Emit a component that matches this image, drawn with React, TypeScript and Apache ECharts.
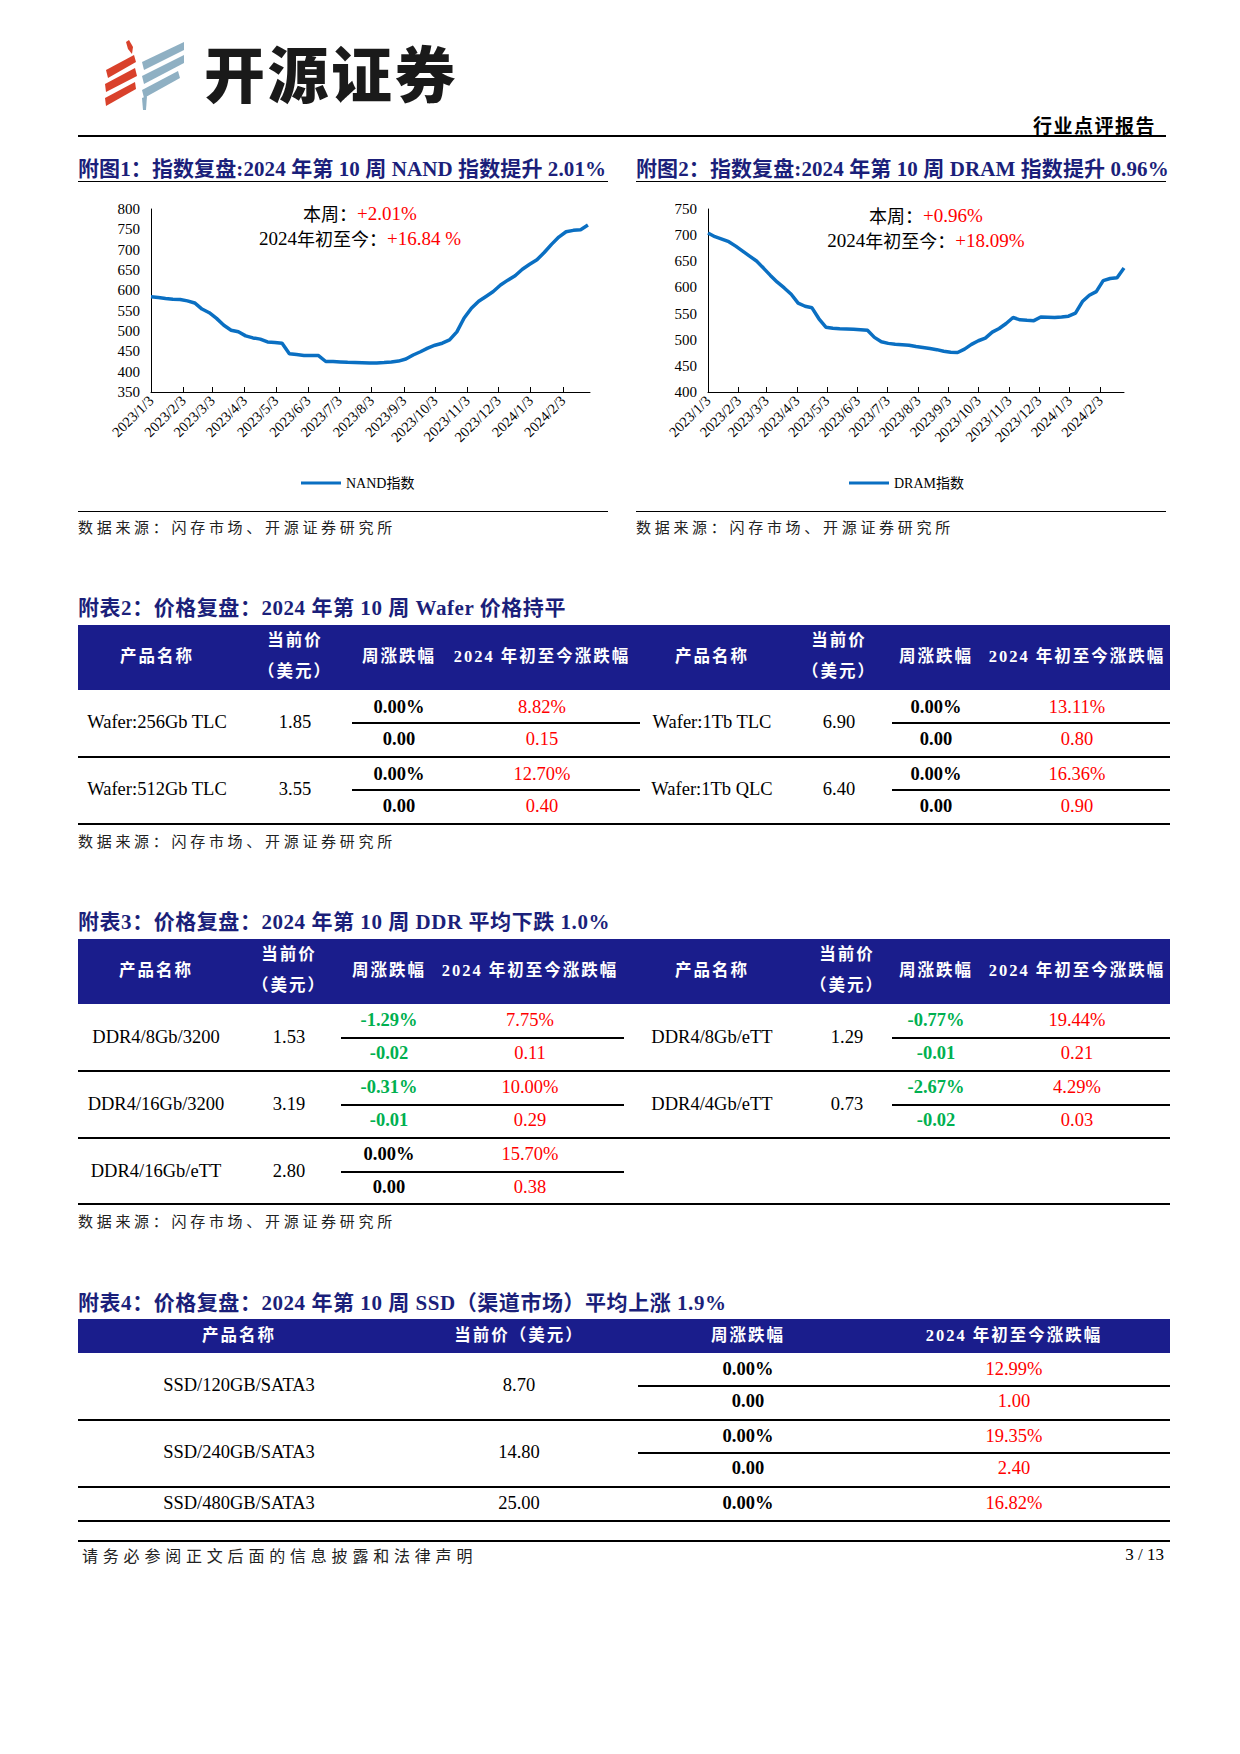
import React, { useEffect, useRef } from "react";
import * as echarts from "echarts";

// ---------- data ----------
const weekDates = [
  "2023/1/3", "2023/1/10", "2023/1/17", "2023/1/24", "2023/1/31",
  "2023/2/7", "2023/2/14", "2023/2/21", "2023/2/28",
  "2023/3/7", "2023/3/14", "2023/3/21", "2023/3/28",
  "2023/4/4", "2023/4/11", "2023/4/18", "2023/4/25",
  "2023/5/2", "2023/5/9", "2023/5/16", "2023/5/23", "2023/5/30",
  "2023/6/6", "2023/6/13", "2023/6/20", "2023/6/27",
  "2023/7/4", "2023/7/11", "2023/7/18", "2023/7/25",
  "2023/8/1", "2023/8/8", "2023/8/15", "2023/8/22", "2023/8/29",
  "2023/9/5", "2023/9/12", "2023/9/19", "2023/9/26",
  "2023/10/3", "2023/10/10", "2023/10/17", "2023/10/24", "2023/10/31",
  "2023/11/7", "2023/11/14", "2023/11/21", "2023/11/28",
  "2023/12/5", "2023/12/12", "2023/12/19", "2023/12/26",
  "2024/1/2", "2024/1/9", "2024/1/16", "2024/1/23", "2024/1/30",
  "2024/2/6", "2024/2/13", "2024/2/20", "2024/2/27",
];

const nandIndex = [
  584, 582.5, 580, 578, 577.5, 574, 569, 554, 545, 531, 514, 502, 498, 488, 483, 480,
  473, 472, 470, 444, 442, 440, 440, 439.5, 425, 425, 424, 423, 422.5, 422, 421.5, 421.5,
  422.5, 424, 426, 431, 441, 449, 458, 465, 470, 478, 498, 532, 556, 573, 585, 597,
  613, 625, 636, 652, 664, 675, 693, 713, 731, 744, 747.5, 749, 760.5,
];

const dramIndex = [
  704, 697, 692.5, 687.5, 679, 669.5, 660, 650.5, 637, 623, 610, 599, 587, 570, 564, 561,
  540, 524, 522, 521, 520.5, 520, 519, 518, 504.5, 496, 493, 491.5, 490.5, 489.5, 487, 485,
  483, 481, 478, 476, 475.5, 482, 491, 498, 503, 514.5, 521.5, 531, 542.5, 538, 537, 536.5,
  543.5, 543, 542.3, 543.5, 545, 551, 573, 585, 592, 613, 617, 618.6, 637,
];

const monthTickLabels = [
  "2023/1/3", "2023/2/3", "2023/3/3", "2023/4/3", "2023/5/3", "2023/6/3", "2023/7/3",
  "2023/8/3", "2023/9/3", "2023/10/3", "2023/11/3", "2023/12/3", "2024/1/3", "2024/2/3",
];

// Wafer table (left panel: 0,1; right panel: 2,3)
const waferNames = ["Wafer:256Gb TLC", "Wafer:512Gb TLC", "Wafer:1Tb TLC", "Wafer:1Tb QLC"];
const waferPrices = ["1.85", "3.55", "6.90", "6.40"];
const waferWeekPct = ["0.00%", "0.00%", "0.00%", "0.00%"];
const waferWeekAbs = ["0.00", "0.00", "0.00", "0.00"];
const waferYtdPct = ["8.82%", "12.70%", "13.11%", "16.36%"];
const waferYtdAbs = ["0.15", "0.40", "0.80", "0.90"];

// DDR table (left panel: 0,1,2; right panel: 3,4)
const ddrNames = ["DDR4/8Gb/3200", "DDR4/16Gb/3200", "DDR4/16Gb/eTT", "DDR4/8Gb/eTT", "DDR4/4Gb/eTT"];
const ddrPrices = ["1.53", "3.19", "2.80", "1.29", "0.73"];
const ddrWeekPct = ["-1.29%", "-0.31%", "0.00%", "-0.77%", "-2.67%"];
const ddrWeekAbs = ["-0.02", "-0.01", "0.00", "-0.01", "-0.02"];
const ddrYtdPct = ["7.75%", "10.00%", "15.70%", "19.44%", "4.29%"];
const ddrYtdAbs = ["0.11", "0.29", "0.38", "0.21", "0.03"];

// SSD table
const ssdNames = ["SSD/120GB/SATA3", "SSD/240GB/SATA3", "SSD/480GB/SATA3"];
const ssdPrices = ["8.70", "14.80", "25.00"];
const ssdWeekPct = ["0.00%", "0.00%", "0.00%"];
const ssdWeekAbs = ["0.00", "0.00", ""];
const ssdYtdPct = ["12.99%", "19.35%", "16.82%"];
const ssdYtdAbs = ["1.00", "2.40", ""];

// ---------- styles ----------
const SERIF = '"Liberation Serif", "Noto Sans CJK SC", serif';
const CJK = '"Noto Sans CJK SC", "Liberation Serif", sans-serif';
const NAVY = "#1b1f7a";
const BAND = "#1a1d8c";
const RED = "#ff0000";
const GREEN = "#00b050";
const LINE_BLUE = "#0a6fc2";

function dayOffset(s: string) {
  const [y, m, d] = s.split("/").map(Number);
  return Math.round((Date.UTC(y, m - 1, d) - Date.UTC(2023, 0, 3)) / 86400000);
}

type TProps = {
  x: number;
  y: number;
  anchor?: "left" | "center" | "right";
  style?: React.CSSProperties;
  children: React.ReactNode;
};
function T({ x, y, anchor = "center", style, children }: TProps) {
  const tx = anchor === "center" ? "-50%" : anchor === "right" ? "-100%" : "0";
  return (
    <div
      style={{
        position: "absolute",
        left: x,
        top: y,
        transform: `translate(${tx}, -50%)`,
        whiteSpace: "nowrap",
        lineHeight: 1.15,
        fontFamily: SERIF,
        fontSize: 18.5,
        color: "#000",
        ...style,
      }}
    >
      {children}
    </div>
  );
}

function HLine({ x1, x2, y, w = 1, color = "#000" }: { x1: number; x2: number; y: number; w?: number; color?: string }) {
  return (
    <div
      style={{
        position: "absolute",
        left: x1,
        top: y - w / 2,
        width: x2 - x1,
        height: w,
        background: color,
      }}
    />
  );
}

// ---------- chart ----------
type ChartProps = {
  left: number;
  top: number;
  width: number;
  height: number;
  gridLeft: number;
  gridWidth: number;
  xMax: number;
  yMin: number;
  yMax: number;
  name: string;
  values: number[];
  weekText: string;
  ytdText: string;
  annX: number;
  annY1: number;
  annY2: number;
  legendLeft: number;
};

function LineChart(p: ChartProps) {
  const ref = useRef<HTMLDivElement>(null);
  useEffect(() => {
    if (!ref.current) return;
    const chart = echarts.init(ref.current, undefined, { renderer: "svg" });
    const tickDays = monthTickLabels.map(dayOffset);
    const labelOf: Record<number, string> = {};
    monthTickLabels.forEach((l, i) => (labelOf[tickDays[i]] = l));
    chart.setOption({
      animation: false,
      grid: { left: p.gridLeft, top: 19, width: p.gridWidth, height: 183, containLabel: false },
      xAxis: {
        type: "value",
        min: 0,
        max: p.xMax,
        axisLine: { show: true, onZero: false, lineStyle: { color: "#000", width: 1 } },
        axisTick: {
          show: true,
          inside: true,
          length: 5,
          customValues: tickDays,
          lineStyle: { color: "#000", width: 1 },
        },
        axisLabel: {
          customValues: tickDays,
          rotate: 45,
          margin: 6,
          fontSize: 14.5,
          color: "#000",
          fontFamily: SERIF,
          formatter: (v: number) => labelOf[v] ?? "",
        },
        splitLine: { show: false },
      },
      yAxis: {
        type: "value",
        min: p.yMin,
        max: p.yMax,
        interval: 50,
        axisLine: { show: true, lineStyle: { color: "#000", width: 1 } },
        axisTick: { show: false },
        axisLabel: { fontSize: 15, color: "#000", margin: 11, fontFamily: SERIF },
        splitLine: { show: false },
      },
      legend: {
        show: true,
        left: p.legendLeft,
        top: 281,
        icon: "rect",
        itemWidth: 40,
        itemHeight: 3,
        itemGap: 4,
        textStyle: { fontSize: 14, color: "#000", fontFamily: SERIF },
        data: [p.name],
      },
      series: [
        {
          type: "line",
          name: p.name,
          data: weekDates.map((d, i) => [dayOffset(d), p.values[i]]),
          symbol: "none",
          showSymbol: false,
          lineStyle: { color: LINE_BLUE, width: 3.5 },
          itemStyle: { color: LINE_BLUE },
        },
      ],
      graphic: [
        {
          type: "text",
          style: {
            x: p.annX,
            y: p.annY1,
            align: "center",
            verticalAlign: "middle",
            text: "{k|本周：}{v|" + p.weekText + "}",
            rich: {
              k: { fontSize: 18, lineHeight: 20, fill: "#000", fontFamily: CJK },
              v: { fontSize: 19, lineHeight: 20, fill: RED, fontFamily: SERIF },
            },
          },
        },
        {
          type: "text",
          style: {
            x: p.annX,
            y: p.annY2,
            align: "center",
            verticalAlign: "middle",
            text: "{n|2024}{k|年初至今：}{v|" + p.ytdText + "}",
            rich: {
              n: { fontSize: 19, lineHeight: 20, fill: "#000", fontFamily: SERIF },
              k: { fontSize: 18, lineHeight: 20, fill: "#000", fontFamily: CJK },
              v: { fontSize: 19, lineHeight: 20, fill: RED, fontFamily: SERIF },
            },
          },
        },
      ],
    });
    return () => chart.dispose();
  }, []);
  return (
    <div
      ref={ref}
      style={{ position: "absolute", left: p.left, top: p.top, width: p.width, height: p.height }}
    />
  );
}

// ---------- logo ----------
function Logo() {
  return (
    <svg
      style={{ position: "absolute", left: 102, top: 40 }}
      width={84}
      height={70}
      viewBox="0 0 84 70"
    >
      <polygon points="24,2 27,0 31,7 30,14 26,9" fill="#d9412b" />
      <polygon points="4,30 32,15 34,22 6,38" fill="#d9412b" />
      <polygon points="3,44 33,28 35,36 4,52" fill="#d9412b" />
      <polygon points="3,58 33,42 34,49 4,66" fill="#d9412b" />
      <polygon points="40,22 82,2 82,10 42,30" fill="#8fb0c3" />
      <polygon points="40,36 82,15 82,23 42,44" fill="#8fb0c3" />
      <polygon points="40,50 76,31 78,38 42,58" fill="#8fb0c3" />
      <polygon points="40,58 45,56 44,70 41,70" fill="#8fb0c3" />
    </svg>
  );
}

// ---------- table helpers ----------
const headStyle: React.CSSProperties = {
  color: "#fff",
  fontWeight: 700,
  fontSize: 16.5,
  letterSpacing: 2,
  fontFamily: SERIF,
};
const chartTitleStyle: React.CSSProperties = {
  color: NAVY,
  fontWeight: 700,
  fontSize: 21,
  letterSpacing: 0.1,
  fontFamily: SERIF,
};
const tableTitleStyle: React.CSSProperties = {
  color: NAVY,
  fontWeight: 700,
  fontSize: 21,
  letterSpacing: 0.55,
  fontFamily: SERIF,
};
const sourceStyle: React.CSSProperties = {
  fontFamily: CJK,
  fontSize: 15,
  letterSpacing: 3.7,
  color: "#222",
};

type PanelCols = { name: number; price: number; wk: number; ytd: number; d1: number; d2: number };

function weekColor(s: string) {
  return s.startsWith("-") ? GREEN : "#000";
}

function panelRows(
  idx: number[],
  cols: PanelCols,
  top0: number,
  rowH: number,
  subA: number,
  subB: number,
  divOff: number,
  names: string[],
  prices: string[],
  wkPct: string[],
  wkAbs: string[],
  ytdPct: string[],
  ytdAbs: string[],
  keyPrefix: string
) {
  const out: React.ReactNode[] = [];
  idx.forEach((k, r) => {
    const top = top0 + r * rowH;
    const mid = top + divOff;
    out.push(<T key={keyPrefix + "n" + k} x={cols.name} y={mid}>{names[k]}</T>);
    out.push(<T key={keyPrefix + "p" + k} x={cols.price} y={mid}>{prices[k]}</T>);
    out.push(
      <T key={keyPrefix + "wp" + k} x={cols.wk} y={top + subA} style={{ fontWeight: 700, color: weekColor(wkPct[k]) }}>
        {wkPct[k]}
      </T>
    );
    out.push(<T key={keyPrefix + "yp" + k} x={cols.ytd} y={top + subA} style={{ color: RED }}>{ytdPct[k]}</T>);
    out.push(
      <T key={keyPrefix + "wa" + k} x={cols.wk} y={top + subB} style={{ fontWeight: 700, color: weekColor(wkAbs[k]) }}>
        {wkAbs[k]}
      </T>
    );
    out.push(<T key={keyPrefix + "ya" + k} x={cols.ytd} y={top + subB} style={{ color: RED }}>{ytdAbs[k]}</T>);
    out.push(<HLine key={keyPrefix + "d" + k} x1={cols.d1} x2={cols.d2} y={mid} w={1.3} />);
  });
  return out;
}

function TwoPanelHeader({ top, cols }: { top: number; cols: PanelCols[] }) {
  const out: React.ReactNode[] = [];
  cols.forEach((c, i) => {
    out.push(<T key={"h1" + i} x={c.name} y={top + 32} style={headStyle}>产品名称</T>);
    out.push(<T key={"h2" + i} x={c.price} y={top + 16} style={headStyle}>当前价</T>);
    out.push(<T key={"h3" + i} x={c.price} y={top + 47} style={headStyle}>（美元）</T>);
    out.push(<T key={"h4" + i} x={c.wk} y={top + 32} style={headStyle}>周涨跌幅</T>);
    out.push(<T key={"h5" + i} x={c.ytd} y={top + 32} style={headStyle}>2024 年初至今涨跌幅</T>);
  });
  return <>{out}</>;
}

const TL = 78;
const TR = 1170;

export default function App() {
  const waferL: PanelCols = { name: 157, price: 295, wk: 399, ytd: 542, d1: 352, d2: 640 };
  const waferR: PanelCols = { name: 712, price: 839, wk: 936, ytd: 1077, d1: 892, d2: TR };
  const ddrL: PanelCols = { name: 156, price: 289, wk: 389, ytd: 530, d1: 341, d2: 624 };
  const ddrR: PanelCols = { name: 712, price: 847, wk: 936, ytd: 1077, d1: 892, d2: TR };

  return (
    <div
      style={{
        position: "absolute",
        left: 0,
        top: 0,
        width: 1240,
        height: 1754,
        background: "#fff",
        overflow: "hidden",
      }}
    >
      {/* header */}
      <Logo />
      <T
        x={204}
        y={72}
        anchor="left"
        style={{ fontFamily: CJK, fontWeight: 900, fontSize: 61, letterSpacing: 2.5, color: "#1a1a1a" }}
      >
        开源证券
      </T>
      <T x={1156} y={125} anchor="right" style={{ fontFamily: CJK, fontWeight: 700, fontSize: 19, letterSpacing: 1.5 }}>
        行业点评报告
      </T>
      <HLine x1={78} x2={1166} y={136} w={2.5} />

      {/* chart titles */}
      <T x={78} y={169} anchor="left" style={chartTitleStyle}>
        附图1：指数复盘:2024 年第 10 周 NAND 指数提升 2.01%
      </T>
      <HLine x1={78} x2={608} y={181} w={1} />
      <T x={636} y={169} anchor="left" style={chartTitleStyle}>
        附图2：指数复盘:2024 年第 10 周 DRAM 指数提升 0.96%
      </T>
      <HLine x1={636} x2={1166} y={181} w={1} />

      <LineChart
        left={78}
        top={190}
        width={530}
        height={310}
        gridLeft={73}
        gridWidth={439}
        xMax={422}
        yMin={350}
        yMax={800}
        name="NAND指数"
        values={nandIndex}
        weekText="+2.01%"
        ytdText="+16.84 %"
        annX={282}
        annY1={23}
        annY2={48}
        legendLeft={218}
      />
      <LineChart
        left={636}
        top={190}
        width={530}
        height={310}
        gridLeft={72}
        gridWidth={416}
        xMax={420}
        yMin={400}
        yMax={750}
        name="DRAM指数"
        values={dramIndex}
        weekText="+0.96%"
        ytdText="+18.09%"
        annX={290}
        annY1={25}
        annY2={50}
        legendLeft={208}
      />

      <HLine x1={78} x2={608} y={511} w={1} />
      <HLine x1={636} x2={1166} y={511} w={1} />
      <T x={78} y={527} anchor="left" style={sourceStyle}>数据来源：闪存市场、开源证券研究所</T>
      <T x={636} y={527} anchor="left" style={sourceStyle}>数据来源：闪存市场、开源证券研究所</T>

      {/* table 2: wafer */}
      <T x={78} y={608} anchor="left" style={tableTitleStyle}>附表2：价格复盘：2024 年第 10 周 Wafer 价格持平</T>
      <div style={{ position: "absolute", left: TL, top: 625, width: TR - TL, height: 65, background: BAND }} />
      <TwoPanelHeader top={625} cols={[waferL, waferR]} />
      {panelRows([0, 1], waferL, 690, 67, 18, 50, 33, waferNames, waferPrices, waferWeekPct, waferWeekAbs, waferYtdPct, waferYtdAbs, "wl")}
      {panelRows([2, 3], waferR, 690, 67, 18, 50, 33, waferNames, waferPrices, waferWeekPct, waferWeekAbs, waferYtdPct, waferYtdAbs, "wr")}
      <HLine x1={TL} x2={TR} y={757} w={1.5} />
      <HLine x1={TL} x2={TR} y={824} w={1.5} />
      <T x={78} y={841} anchor="left" style={sourceStyle}>数据来源：闪存市场、开源证券研究所</T>

      {/* table 3: DDR */}
      <T x={78} y={922} anchor="left" style={tableTitleStyle}>附表3：价格复盘：2024 年第 10 周 DDR 平均下跌 1.0%</T>
      <div style={{ position: "absolute", left: TL, top: 939, width: TR - TL, height: 65, background: BAND }} />
      <TwoPanelHeader top={939} cols={[ddrL, ddrR]} />
      {panelRows([0, 1, 2], ddrL, 1004, 67, 17, 50, 34, ddrNames, ddrPrices, ddrWeekPct, ddrWeekAbs, ddrYtdPct, ddrYtdAbs, "dl")}
      {panelRows([3, 4], ddrR, 1004, 67, 17, 50, 34, ddrNames, ddrPrices, ddrWeekPct, ddrWeekAbs, ddrYtdPct, ddrYtdAbs, "dr")}
      <HLine x1={TL} x2={TR} y={1071} w={1.5} />
      <HLine x1={TL} x2={TR} y={1138} w={1.5} />
      <HLine x1={TL} x2={TR} y={1204} w={1.5} />
      <T x={78} y={1221} anchor="left" style={sourceStyle}>数据来源：闪存市场、开源证券研究所</T>

      {/* table 4: SSD */}
      <T x={78} y={1303} anchor="left" style={tableTitleStyle}>附表4：价格复盘：2024 年第 10 周 SSD（渠道市场）平均上涨 1.9%</T>
      <div style={{ position: "absolute", left: TL, top: 1319, width: TR - TL, height: 34, background: BAND }} />
      <T x={239} y={1336} style={headStyle}>产品名称</T>
      <T x={519} y={1336} style={headStyle}>当前价（美元）</T>
      <T x={748} y={1336} style={headStyle}>周涨跌幅</T>
      <T x={1014} y={1336} style={headStyle}>2024 年初至今涨跌幅</T>
      {ssdNames.map((n, i) => {
        const top = 1353 + i * 67;
        const single = ssdWeekAbs[i] === "";
        const mid = single ? top + 17 : top + 33;
        return (
          <React.Fragment key={"s" + i}>
            <T x={239} y={mid}>{n}</T>
            <T x={519} y={mid}>{ssdPrices[i]}</T>
            <T x={748} y={single ? mid : top + 17} style={{ fontWeight: 700, color: weekColor(ssdWeekPct[i]) }}>
              {ssdWeekPct[i]}
            </T>
            <T x={1014} y={single ? mid : top + 17} style={{ color: RED }}>{ssdYtdPct[i]}</T>
            {!single && (
              <>
                <T x={748} y={top + 49} style={{ fontWeight: 700 }}>{ssdWeekAbs[i]}</T>
                <T x={1014} y={top + 49} style={{ color: RED }}>{ssdYtdAbs[i]}</T>
                <HLine x1={638} x2={TR} y={top + 33} w={1.3} />
              </>
            )}
          </React.Fragment>
        );
      })}
      <HLine x1={TL} x2={TR} y={1420} w={1.5} />
      <HLine x1={TL} x2={TR} y={1487} w={1.5} />
      <HLine x1={TL} x2={TR} y={1521} w={1.5} />

      {/* footer */}
      <HLine x1={78} x2={1170} y={1541} w={2.5} />
      <T x={82} y={1555} anchor="left" style={{ fontFamily: CJK, fontSize: 16, letterSpacing: 4.8, color: "#222" }}>
        请务必参阅正文后面的信息披露和法律声明
      </T>
      <T x={1164} y={1555} anchor="right" style={{ fontSize: 17 }}>3 / 13</T>
    </div>
  );
}
